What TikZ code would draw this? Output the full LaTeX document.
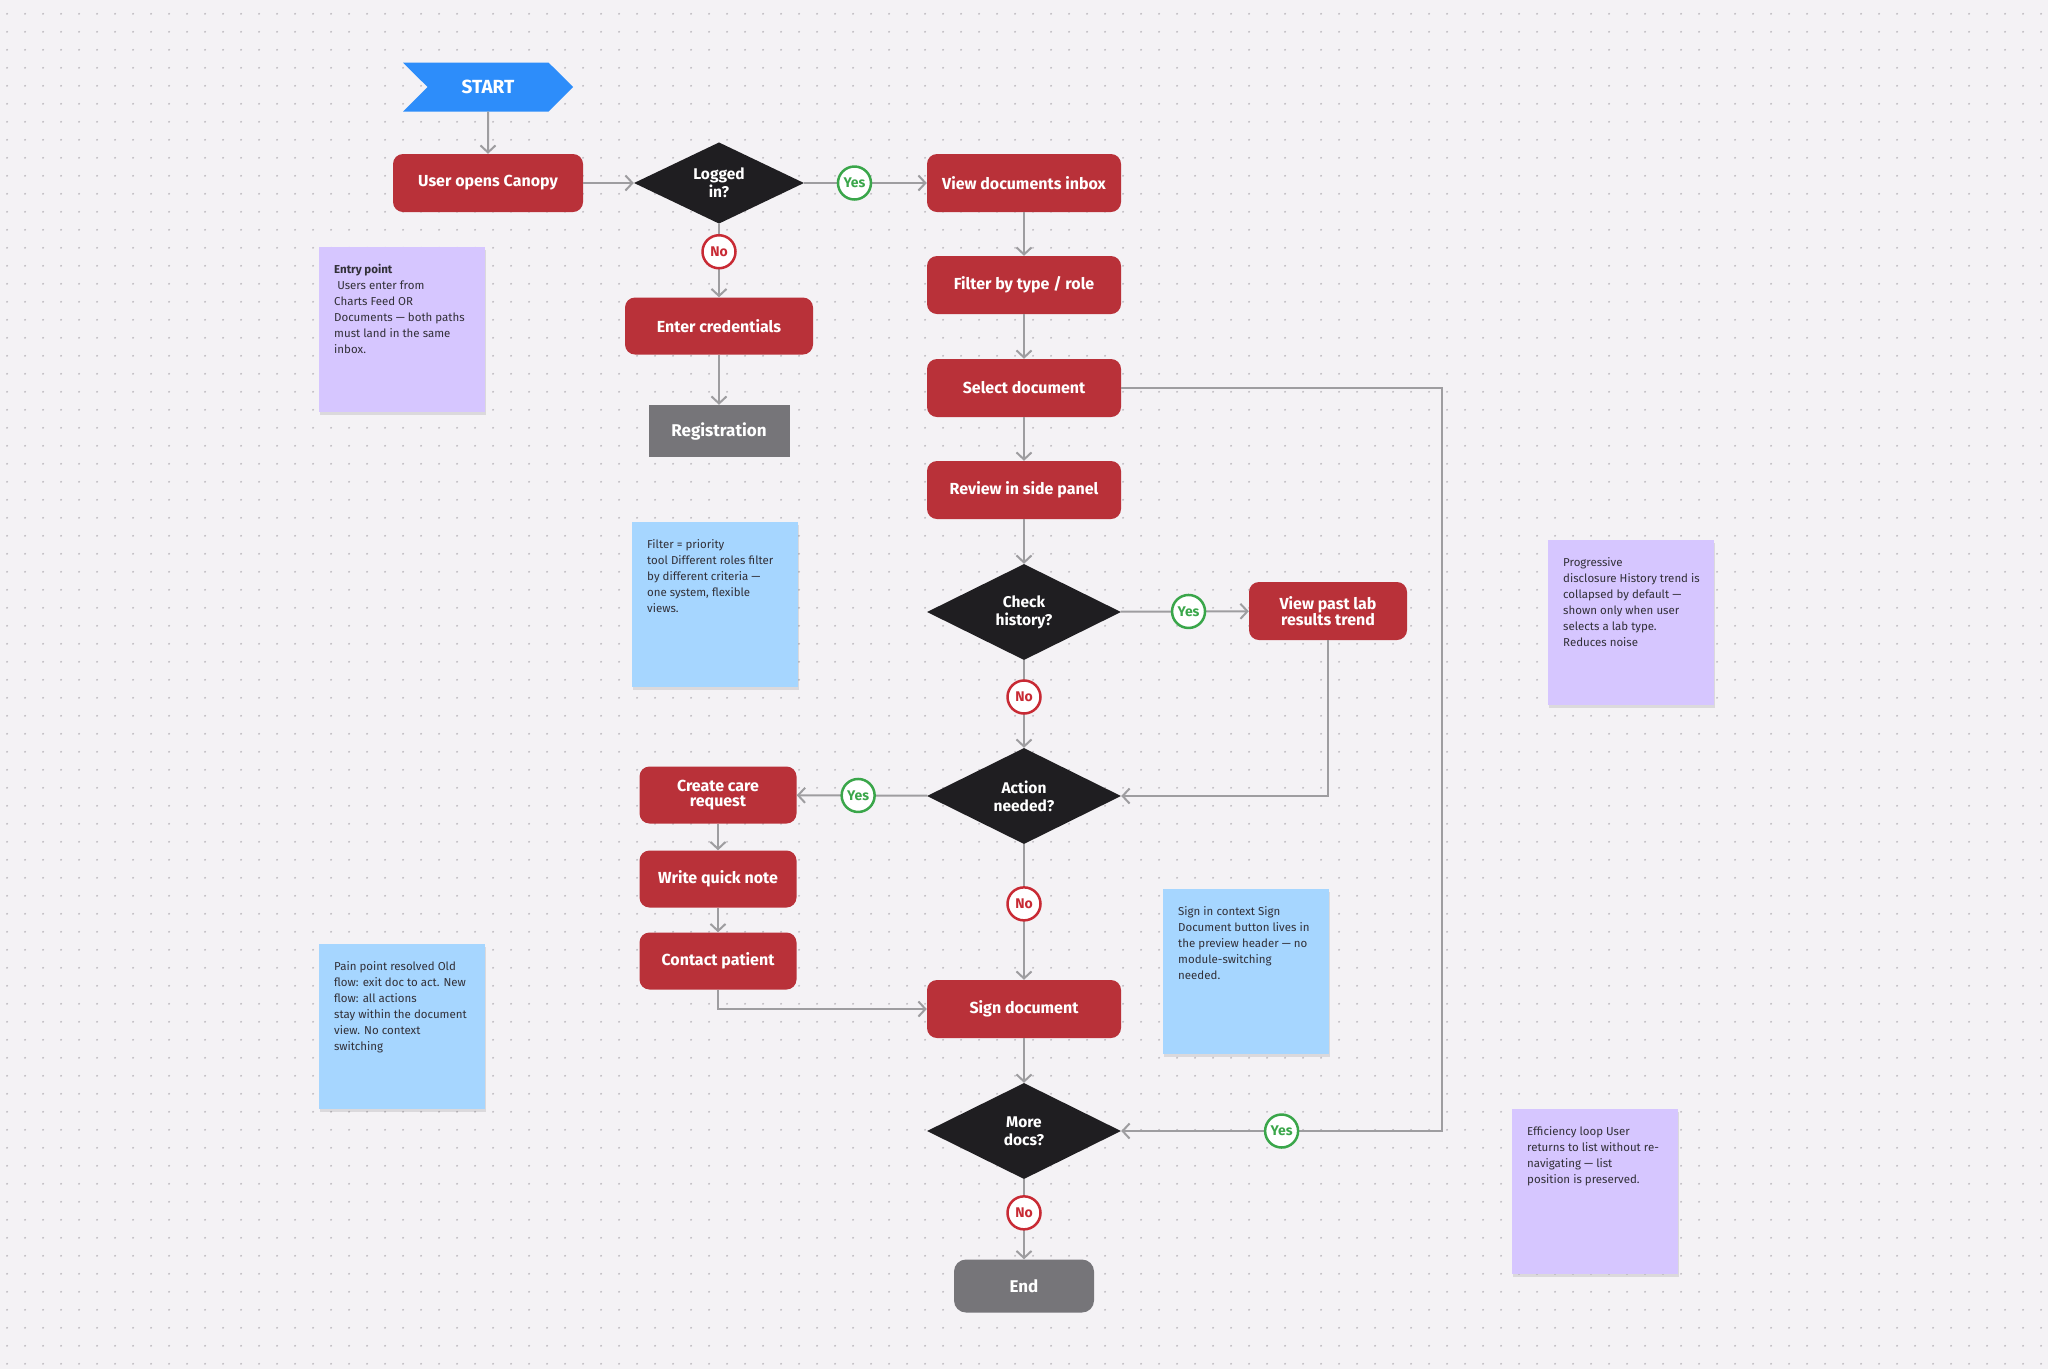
\documentclass[tikz,border=0pt]{standalone}
\usepackage{fontspec}
\IfFontExistsTF{Fira Sans Bold}{\setmainfont{Fira Sans}}{\setmainfont{Liberation Sans}}
\usetikzlibrary{positioning,arrows.meta,shapes.geometric,shapes.symbols,shadows,patterns}

\definecolor{paper}{RGB}{244,242,245}
\definecolor{dotgray}{RGB}{192,188,194}
\definecolor{canopyred}{RGB}{185,49,57}
\definecolor{ink}{RGB}{31,30,33}
\definecolor{startblue}{RGB}{45,141,250}
\definecolor{endgray}{RGB}{118,117,121}
\definecolor{linegray}{RGB}{158,157,160}
\definecolor{yesgreen}{RGB}{58,166,74}
\definecolor{nored}{RGB}{200,42,52}
\definecolor{notepurple}{RGB}{214,198,255}
\definecolor{noteblue}{RGB}{166,214,255}
\definecolor{notetext}{RGB}{50,48,56}

\pgfdeclarepatternformonly{dot grid}{\pgfpointorigin}{\pgfpoint{18.3pt}{18.3pt}}{\pgfpoint{18.3pt}{18.3pt}}{
	\pgfpathcircle{\pgfpoint{8.4pt}{6.4pt}}{1.1pt}
	\pgfusepath{fill}
}

\tikzset{
S node/.style={signal,signal to=east,signal from=west,signal pointer angle=90,fill=startblue,text=white,minimum width=170pt,minimum height=49pt,inner sep=0pt,font=\fontsize{19}{19}\selectfont\bfseries},
P node/.style={rectangle,rounded corners=10pt,fill=canopyred,text=white,align=center,minimum width=194pt,minimum height=58pt,inner sep=0pt,font=\fontsize{16}{15.5}\selectfont\bfseries},
D node/.style={diamond,fill=ink,text=white,align=center,minimum width=194pt,minimum height=96pt,inner sep=0pt,font=\fontsize{15.5}{18}\selectfont\bfseries},
T node/.style={rectangle,fill=endgray,text=white,inner sep=0pt,font=\fontsize{17}{17}\selectfont\bfseries},
Y node/.style={circle,fill=white,draw=yesgreen,line width=2.5pt,text=yesgreen,minimum size=33pt,inner sep=0pt,font=\fontsize{14}{14}\selectfont\bfseries},
N node/.style={circle,fill=white,draw=nored,line width=2.5pt,text=nored,minimum size=33pt,inner sep=0pt,font=\fontsize{14}{14}\selectfont\bfseries},
M node/.style={rectangle,anchor=north west,minimum width=166pt,minimum height=165pt,inner sep=0pt,drop shadow={shadow xshift=1pt,shadow yshift=-3pt,fill=black,opacity=0.10}},
M text/.style={align=left,inner sep=0pt,text=notetext,font=\fontsize{11.5}{16}\selectfont},
link/.style={linegray,line width=2pt,-{Straight Barb[length=7pt,width=15pt]}},
}

\begin{document}
\begin{tikzpicture}[x=1pt,y=-1pt]
			\useasboundingbox (0,0) rectangle (2048,1369);
			\fill[paper] (0,0) rectangle (2048,1369);
			\fill[pattern=dot grid, pattern color=dotgray] (0,0) rectangle (2048,1369);

			% sticky notes
			\node[M node, fill=notepurple] (m1) at (319,247) {};
			\node[M text, below right=17pt and 15pt of m1.north west] (t1) {\textbf{Entry point}\\\ Users enter from\\Charts Feed OR\\Documents — both paths\\must land in the same\\inbox.};
			\node[M node, fill=noteblue] (m2) at (632,522) {};
			\node[M text, below right=17pt and 15pt of m2.north west] (t2) {Filter = priority\\tool Different roles filter\\by different criteria —\\one system, flexible\\views.};
			\node[M node, fill=notepurple] (m3) at (1548,540) {};
			\node[M text, below right=17pt and 15pt of m3.north west] (t3) {Progressive\\disclosure History trend is\\collapsed by default —\\shown only when user\\selects a lab type.\\Reduces noise};
			\node[M node, fill=noteblue] (m4) at (319,944) {};
			\node[M text, below right=17pt and 15pt of m4.north west] (t4) {Pain point resolved Old\\flow: exit doc to act. New\\flow: all actions\\stay within the document\\view. No context\\switching};
			\node[M node, fill=noteblue] (m5) at (1163,889) {};
			\node[M text, below right=17pt and 15pt of m5.north west] (t5) {Sign in context Sign\\Document button lives in\\the preview header — no\\module-switching\\needed.};
			\node[M node, fill=notepurple] (m6) at (1512,1109) {};
			\node[M text, below right=17pt and 15pt of m6.north west] (t6) {Efficiency loop User\\returns to list without re-\\navigating — list\\position is preserved.};

			% flow
			\node[S node] (start) at (488,87) {START};
			\node[P node, minimum width=190pt] (open) at (488,183) {User opens Canopy};
			\node[D node, minimum width=170pt, minimum height=73pt] (login) at (719,183) {Logged\\in?};
			\node[P node] (inbox) at (1024,183) {View documents inbox};
			\node[P node, minimum width=188pt, minimum height=57pt] (enter) at (719,326) {Enter credentials};
			\node[T node, minimum width=141pt, minimum height=52pt] (reg) at (719,431) {Registration};
			\node[P node] (filter) at (1024,285) {Filter by type / role};
			\node[P node] (select) at (1024,388) {Select document};
			\node[P node] (review) at (1024,490) {Review in side panel};
			\node[D node] (check) at (1024,612) {Check\\history?};
			\node[P node, minimum width=158pt] (lab) at (1328,611) {View past lab\\results trend};
			\node[D node] (act) at (1024,796) {Action\\needed?};
			\node[P node, minimum width=157pt, minimum height=57pt] (care) at (718,795) {Create care\\request};
			\node[P node, minimum width=157pt, minimum height=57pt] (quick) at (718,879) {Write quick note};
			\node[P node, minimum width=157pt, minimum height=57pt] (call) at (718,961) {Contact patient};
			\node[P node] (sign) at (1024,1009) {Sign document};
			\node[D node] (more) at (1024,1131) {More\\docs?};
			\node[T node, rounded corners=12pt, minimum width=140pt, minimum height=53pt] (end) at (1024,1286) {End};
			\coordinate (loop) at (1442,388);

			\path[draw, link]
				(start) edge (open)
				(open) edge (login)
				(login) edge node[Y node, pos=0.41] (y1) {Yes} (inbox)
				(login) edge node[N node, pos=0.38] (n1) {No} (enter)
				(enter) edge (reg)
				(inbox) edge (filter)
				(filter) edge (select)
				(select) edge (review)
				(review) edge (check)
				(check) edge node[Y node, pos=0.53] (y2) {Yes} (lab)
				(check) edge node[N node, pos=0.42] (n2) {No} (act)
				(act) edge node[Y node, pos=0.53] (y3) {Yes} (care)
				(act) edge node[N node, pos=0.44] (n3) {No} (sign)
				(care) edge (quick)
				(quick) edge (call)
				(sign) edge (more)
				(more) edge node[N node, pos=0.42] (n4) {No} (end);
			\draw[link] (lab) |- (act);
			\draw[link] (call) |- (sign);
			\draw[link] (select) -- (loop) |- node[Y node, pos=0.75] (y4) {Yes} (more);
\end{tikzpicture}
\end{document}
